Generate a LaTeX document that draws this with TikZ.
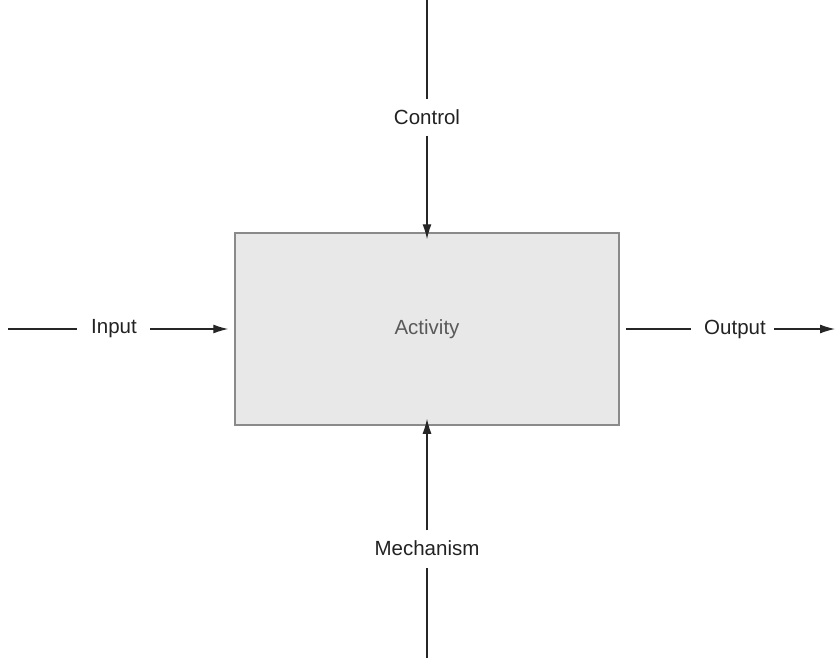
\documentclass[tikz,border=0pt]{standalone}
\usepackage{fontspec}
\setmainfont{Liberation Sans}
\usetikzlibrary{arrows.meta}
\definecolor{boxfill}{HTML}{E8E8E8}
\definecolor{boxedge}{HTML}{8A8A8A}
\definecolor{inktext}{HTML}{222222}
\tikzset{
  x=1pt, y=-1pt,
  flowline/.style={draw=black!85, line width=1.2pt},
  arrowed/.style={flowline, -{Latex[length=15pt,width=9pt]}},
  flowlabel/.style={font=\fontsize{20.5}{24}\selectfont, text=inktext, inner sep=0pt},
  activitybox/.style={draw=boxedge, fill=boxfill, line width=1.5pt, minimum width=384pt, minimum height=192pt, inner sep=0pt}
}
\begin{document}
\begin{tikzpicture}
\useasboundingbox (0,0) rectangle (835,658);
\node[activitybox] (act) at (427,329) {};
\node[flowlabel, text=black!65] (actlabel) at (427,329) {Activity};
% labels on the four sides
\node[flowlabel] (in) at (114,329) {Input};
\node[flowlabel] (out) at (735,329) {Output};
\node[flowlabel] (ctl) at (427,117) {Control};
\node[flowlabel] (mech) at (427,548) {Mechanism};
% free ends
\coordinate (inS) at (8,329);
\coordinate (outE) at (835,329);
\coordinate (ctlS) at (427,0);
\coordinate (mechS) at (427,658);
% input
\draw[flowline] (inS) -- ([xshift=-14pt]in.west);
\draw[arrowed] ([xshift=13pt]in.east) -- ([xshift=-6pt]act.west);
% output
\draw[flowline] ([xshift=6pt]act.east) -- ([xshift=-13pt]out.west);
\draw[arrowed] ([xshift=8pt]out.east) -- (outE);
% control
\draw[flowline] (ctlS) -- ([yshift=10pt]ctl.north);
\draw[arrowed] ([yshift=-11pt]ctl.south) -- ([yshift=-7pt]act.north);
% mechanism
\draw[flowline] (mechS) -- ([yshift=-12pt]mech.south);
\draw[arrowed] ([yshift=10pt]mech.north) -- ([yshift=7pt]act.south);
\end{tikzpicture}
\end{document}
